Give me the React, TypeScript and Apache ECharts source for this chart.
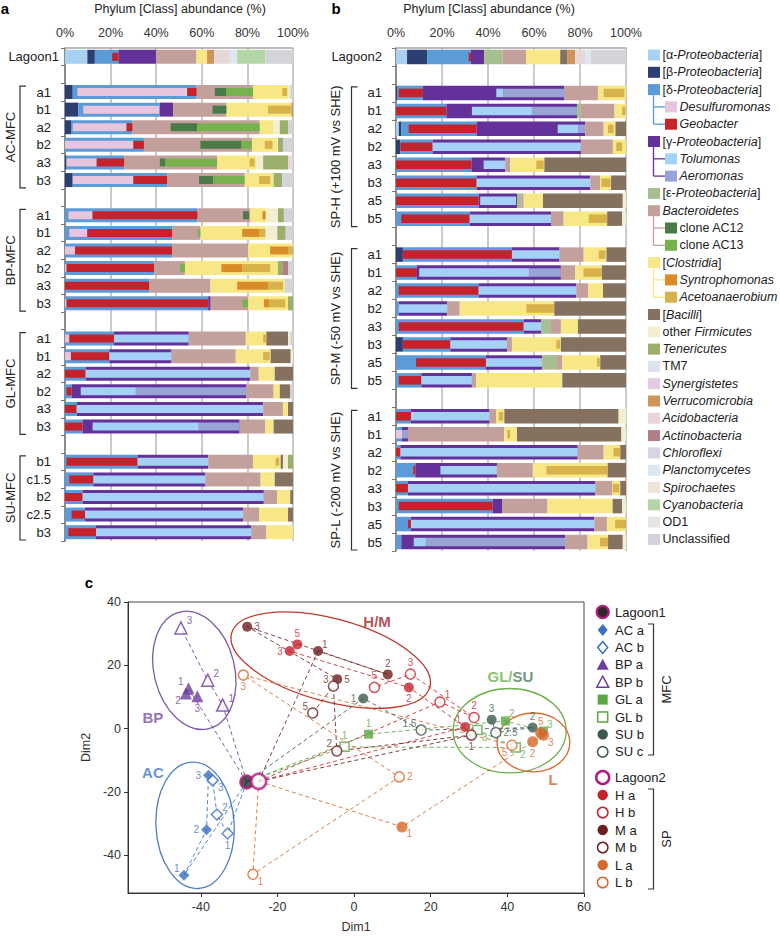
import React, { useEffect, useRef } from 'react';
import * as echarts from 'echarts';

const FONT = '"Liberation Sans", Arial, Helvetica, sans-serif';

/* ================= panel a : MFC anodes ================= */
const A_LABELS = ['Lagoon1', '', 'a1', 'b1', 'a2', 'b2', 'a3', 'b3', '', 'a1', 'b1', 'a2', 'b2', 'a3', 'b3', '', 'a1', 'b1', 'a2', 'b2', 'a3', 'b3', '', 'b1', 'c1.5', 'b2', 'c2.5', 'b3'];
// parent taxa (% of reads)
const A_ALPHA = [9.8, 0, 0, 0, 0, 0, 0, 0, 0, 0, 0, 0, 0, 0, 0, 0, 0, 0, 0, 0, 0, 0, 0, 0, 0, 0, 0, 0];
const A_BETA = [3.3, 0, 3.4, 5.8, 2.9, 0, 0.7, 3.4, 0, 0, 0, 0, 0, 0, 0, 0, 0, 0, 0, 0, 0, 0, 0, 0, 0, 0, 0, 0];
const A_DELTA = [10.3, 0, 54.3, 35.8, 26.7, 34.6, 25.3, 41.4, 0, 58.1, 47, 47, 39.1, 36.9, 62.8, 0, 21.5, 19.4, 9, 2.9, 5.1, 7.7, 0, 31.8, 12.4, 7.7, 8.8, 13.6];
const A_GAMMA = [16.5, 0, 0, 5.8, 0, 0, 0, 0, 0, 0, 0, 0, 0, 0, 1.1, 0, 32.8, 27.3, 72.3, 76.7, 81.8, 68.9, 0, 31, 49.2, 79.5, 69.3, 68.2];
const A_BACT = [17.8, 0, 24.8, 23.4, 55.8, 47.4, 40.7, 34, 0, 23.2, 12.4, 33.3, 13.5, 26.9, 16.4, 0, 25, 28.2, 3.7, 11.9, 8.7, 11.3, 0, 19.7, 24.2, 5.8, 7, 6.5];
const A_CLOST = [4.6, 0, 15.3, 28.5, 6.1, 11.1, 17.3, 12.7, 0, 7, 28.6, 19.7, 40.8, 32.6, 17.5, 0, 9, 15.3, 7, 2.7, 2.2, 3.6, 0, 12.1, 6.2, 5.8, 12.7, 11.7];
const A_BACILLI = [0, 0, 0, 0, 0, 0, 0, 0, 0, 0, 0, 0, 0, 0, 0, 0, 9.5, 8.8, 8, 4.6, 2.2, 8.5, 0, 1, 8, 1.2, 2.2, 0];
const A_OTHERF = [0, 0, 1, 0, 2.7, 0.3, 2.9, 0, 0, 5.1, 5.1, 0, 0, 0, 0, 0, 1, 1, 0, 0, 0, 0, 0, 2.2, 0, 0, 0, 0];
const A_TENERIC = [0, 0, 0, 0, 3.6, 2.2, 10.9, 3.8, 0, 2.6, 3.7, 0, 2.2, 0, 2.2, 0, 0, 0, 0, 0, 0, 0, 0, 2.2, 0, 0, 0, 0];
const A_VERRUCO = [3.1, 0, 0, 0.7, 0, 0, 0, 0, 0, 0, 0, 0, 0, 0, 0, 0, 0, 0, 0, 0, 0, 0, 0, 0, 0, 0, 0, 0];
const A_ACIDO = [6.9, 0, 0, 0, 0, 0, 2.2, 0, 0, 0, 0, 0, 0, 0, 0, 0, 0, 0, 0, 0, 0, 0, 0, 0, 0, 0, 0, 0];
const A_ACTINO = [0, 0, 0, 0, 0, 0, 0, 0, 0, 0, 0, 0, 2.2, 0, 0, 0, 0, 0, 0, 0, 0, 0, 0, 0, 0, 0, 0, 0];
const A_PLANCTO = [3.2, 0, 0, 0, 0, 0, 0, 0, 0, 0, 0, 0, 0, 0, 0, 0, 0, 0, 0, 0, 0, 0, 0, 0, 0, 0, 0, 0];
const A_CYANO = [12.4, 0, 0, 0, 0, 0, 0, 0, 0, 0, 0, 0, 0, 0, 0, 0, 0, 0, 0, 0, 0, 0, 0, 0, 0, 0, 0, 0];
const A_UNCLASS = [12.1, 0, 1.2, 0, 2.2, 4.4, 0, 4.7, 0, 4, 3.2, 0, 2.2, 3.6, 0, 0, 1.2, 0, 0, 1.2, 0, 0, 0, 0, 0, 0, 0, 0];
// nested genera / clones (offset inside parent, then sub-taxa)
const A_DPRE = [7.6, 0, 2.0, 2.2, 0.5, 0, 0, 0, 0, 1.5, 1.9, 0, 0, 0, 0, 0, 0, 0, 0, 0.7, 0, 0, 0, 0.7, 1.9, 0, 2.9, 1.5];
const A_DESULFO = [0, 0, 48.2, 33.3, 23.6, 30, 13.2, 26.6, 0, 10.6, 7.9, 4.4, 0.7, 0, 0.7, 0, 1.9, 2.6, 0, 0, 0, 0, 0, 0, 0, 0, 0, 0];
const A_GEO = [2.7, 0, 4.1, 0, 2.6, 4.6, 12.1, 14.8, 0, 46, 37.2, 42.6, 38.4, 36.9, 62.1, 0, 19.6, 16.8, 9, 2.2, 5.1, 7.7, 0, 31.1, 10.5, 7.7, 5.9, 12.1];
const A_GPRE = [0, 0, 0, 0, 0, 0, 0, 0, 0, 0, 0, 0, 0, 0, 0, 0, 0, 0, 0, 4.0, 0, 4.4, 0, 0, 0, 0, 0, 0];
const A_TOLU = [0, 0, 0, 0, 0, 0, 0, 0, 0, 0, 0, 0, 0, 0, 0, 0, 32.8, 27.3, 72.3, 24.2, 81.8, 46.6, 0, 31, 49.2, 79.5, 69.3, 68.2];
const A_AERO = [0, 0, 0, 0, 0, 0, 0, 0, 0, 0, 0, 0, 0, 0, 0, 0, 0, 0, 0, 48.5, 0, 17.9, 0, 0, 0, 0, 0, 0];
const A_BPRE = [0, 0, 8.0, 17.3, 16.7, 24.8, 15.6, 14, 0, 20, 11.4, 0, 11.3, 0, 13.9, 0, 0, 0, 0, 0, 0, 0, 0, 0, 0, 0, 0, 0];
const A_AC12 = [0, 0, 5.1, 6.1, 11.7, 18, 2.4, 6.2, 0, 2.6, 0, 0, 0, 0, 0, 0, 0, 0, 0, 0, 0, 0, 0, 0, 0, 0, 0, 0];
const A_AC13 = [0, 0, 11.7, 0, 27.4, 4.6, 22.7, 13.8, 0, 0, 1.0, 0, 2.2, 0, 2.5, 0, 0, 0, 0, 0, 0, 0, 0, 0, 0, 0, 0, 0];
const A_CPRE = [0, 0, 12.8, 18.2, 0, 5.6, 14.3, 6.3, 0, 5.3, 18.3, 9.7, 16, 11.7, 7, 0, 7.6, 12, 0, 0, 0, 0, 0, 9.9, 0, 0, 0, 0];
const A_SYN = [0, 0, 0, 0, 0, 0, 0, 0, 0, 1.4, 7.7, 7.8, 9.1, 13.8, 2.2, 0, 0, 0, 0, 0, 0, 0, 0, 0, 0, 0, 0, 0];
const A_ACETO = [0, 0, 2.1, 10.3, 0, 3.4, 2.2, 4.9, 0, 0, 2.5, 2.2, 12.3, 6.3, 7.1, 0, 1.4, 2.9, 0, 0, 0, 0, 0, 1.5, 0, 0, 0, 0];

/* ================= panel b : SP electrodes ================= */
const B_LABELS = ['Lagoon2', '', 'a1', 'b1', 'a2', 'b2', 'a3', 'b3', 'a5', 'b5', '', 'a1', 'b1', 'a2', 'b2', 'a3', 'b3', 'a5', 'b5', '', 'a1', 'b1', 'a2', 'b2', 'a3', 'b3', 'a5', 'b5'];
const B_ALPHA = [4.8, 0, 0, 0, 1.2, 0, 0, 0, 0, 0, 0, 0, 0, 0, 0, 0, 0, 0, 0, 0, 0, 0, 0, 0, 0, 0, 0, 0];
const B_BETA = [8.7, 0, 0.7, 0, 1.0, 1.9, 0, 0, 0, 0, 0, 3, 0, 0, 0, 0, 3, 0, 0, 0, 0, 0, 0, 0, 0, 0, 0, 0];
const B_DELTA = [19.1, 0, 11, 21.9, 32.8, 14, 32.8, 35, 35.9, 32, 0, 47.4, 9.1, 35.9, 1.2, 55.5, 20.6, 39.1, 11, 0, 6.5, 2.6, 1.9, 8.4, 5.2, 42, 6.5, 2.3];
const B_GAMMA = [5.8, 0, 61.5, 56.8, 47.3, 64.5, 14.7, 49.5, 16.7, 35.4, 0, 20.7, 62.6, 42.5, 21, 7.7, 24.7, 24.4, 22, 0, 34.2, 2.6, 77.1, 35.5, 81.5, 4.1, 79.7, 71.3];
const B_EPS = [8, 0, 0, 1.7, 0, 0, 0, 0, 1.9, 0, 0, 0, 0, 0, 0, 4.2, 0, 6.5, 0, 0, 0, 0, 0, 0, 0, 0, 0, 0];
const B_BACT = [10.1, 0, 14.6, 14.6, 8, 13.9, 2.2, 4.3, 1, 5.5, 0, 10.5, 6.2, 5.1, 5.5, 4.3, 2.1, 2.3, 1.9, 0, 2.8, 41.9, 11.3, 15.6, 7.2, 19.8, 5.5, 9.7];
const B_CLOST = [14.9, 0, 12.2, 5, 5.1, 5.7, 14.8, 4.7, 8.4, 18.9, 0, 9.9, 11.6, 6.5, 41.1, 7.4, 21.3, 16.5, 37.4, 0, 3.6, 5.5, 7.2, 32.5, 3.6, 28.3, 8.3, 8.9];
const B_BACILLI = [3.2, 0, 0, 0, 4.6, 0, 35.5, 6.5, 34.7, 6.5, 0, 8.5, 10.5, 10, 31.2, 20.9, 28.3, 11.2, 27.7, 0, 49.7, 45.4, 2.5, 8, 2.5, 4.1, 0, 6.4];
const B_OTHERF = [0, 0, 0, 0, 0, 0, 0, 0, 1.4, 1.7, 0, 0, 0, 0, 0, 0, 0, 0, 0, 0, 3.2, 2, 0, 0, 0, 1.7, 0, 1.4];
const B_VERRUCO = [3.3, 0, 0, 0, 0, 0, 0, 0, 0, 0, 0, 0, 0, 0, 0, 0, 0, 0, 0, 0, 0, 0, 0, 0, 0, 0, 0, 0];
const B_ACIDO = [4.3, 0, 0, 0, 0, 0, 0, 0, 0, 0, 0, 0, 0, 0, 0, 0, 0, 0, 0, 0, 0, 0, 0, 0, 0, 0, 0, 0];
const B_PLANCTO = [2.5, 0, 0, 0, 0, 0, 0, 0, 0, 0, 0, 0, 0, 0, 0, 0, 0, 0, 0, 0, 0, 0, 0, 0, 0, 0, 0, 0];
const B_UNCLASS = [15.3, 0, 0, 0, 0, 0, 0, 0, 0, 0, 0, 0, 0, 0, 0, 0, 0, 0, 0, 0, 0, 0, 0, 0, 0, 0, 0, 0];
const B_DPRE = [18.1, 0, 0.5, 0, 3.3, 0, 0, 0, 0, 2.3, 0, 0, 0, 1.2, 0, 1.2, 0, 8.7, 1.2, 0, 0, 0, 0, 7.5, 0, 1.2, 5.2, 0];
const B_DESULFO = [0, 0, 0, 0, 0, 0, 0, 0, 0, 0, 0, 0, 0, 0, 0, 0, 0, 0, 0, 0, 0, 2.6, 0, 0, 0, 0, 0, 0];
const B_GEO = [1.0, 0, 10.5, 21.9, 29.5, 14, 32.8, 35, 35.9, 29.7, 0, 47.4, 9.1, 34.7, 0, 54.3, 20.6, 30.4, 9.8, 0, 6.5, 0, 1.9, 0.9, 5.2, 40.8, 1.3, 0];
const B_GPRE = [0, 0, 31.9, 11.1, 35.3, 0, 5.3, 0, 0.7, 0, 0, 0, 1, 0, 0, 0, 0, 0, 0, 0, 0, 0, 0, 10.9, 0, 0, 0, 5.4];
const B_TOLU = [0, 0, 3.2, 26.1, 9.1, 64.5, 9.4, 49.5, 15.6, 35.4, 0, 20.7, 48, 42.5, 21, 7.7, 24.7, 24.4, 22, 0, 34.2, 0, 77.1, 24.6, 81.5, 0, 79.7, 5.3];
const B_AERO = [0, 0, 26.4, 19.6, 2.9, 0, 0, 0, 0, 0, 0, 0, 13.6, 0, 0, 0, 0, 0, 0, 0, 0, 2.6, 0, 0, 0, 0, 0, 60.6];
const B_CPRE = [0, 0, 2.5, 3.3, 1.8, 1.5, 11.3, 0.5, 0, 10.9, 0, 6.6, 3.6, 0, 29, 0, 19.3, 15.1, 0, 0, 1.2, 1.3, 4.3, 5.9, 0.3, 0, 3.6, 5.4];
const B_ACETO = [0, 0, 9, 1.5, 2.5, 2.5, 3.2, 4, 0, 8, 0, 2.8, 8, 0, 12, 0, 1.7, 1.2, 0, 0, 1.9, 1.2, 2.9, 26.6, 2.9, 0, 4.7, 3.5];

/* ================= panel c : ordination ================= */
const LAGOON1: [number, number][] = [[-28, -16.9]];
const LAGOON2: [number, number][] = [[-24.9, -16.7]];
const AC_A: [number, number, string][] = [[-44.4, -46.4, '1'], [-38.5, -32, '2'], [-38, -14.8, '3']];
const AC_B: [number, number, string][] = [[-33, -33.2, '1'], [-35.8, -27.2, '2'], [-36.9, -16.4, '3']];
const BP_A: [number, number, string][] = [[-43.2, 12.7, '1'], [-43.9, 11.1, '2'], [-40.9, 10.2, '3']];
const BP_B: [number, number, string][] = [[-34.3, 7.4, '1'], [-38.2, 15.3, '2'], [-45.2, 31.8, '3']];
const GL_A: [number, number, string][] = [[3.8, -1.8, '1'], [39.5, 2.4, '2'], [49.4, -0.8, '3']];
const GL_B: [number, number, string][] = [[-2.5, -5.8, '1'], [42.2, -6, '2'], [32.2, -0.5, '3']];
const SU_B: [number, number, string][] = [[2.4, 9.5, '1'], [46.6, 0.3, '2'], [35.9, 2.8, '3']];
const SU_C: [number, number, string][] = [[17.5, -0.5, '1.5'], [37, -1.3, '2.5']];
const H_A: [number, number, string][] = [[29, 0.5, '1'], [14.3, 13, '2'], [-16.8, 24.5, '3'], [-14.8, 26.6, '5']];
const H_B: [number, number, string][] = [[22.4, 8.4, '1'], [31.3, 3.5, '2'], [14.7, 17.2, '3'], [5.3, 13, '5']];
const M_A: [number, number, string][] = [[-9.4, 24.5, '1'], [8.8, 17.1, '2'], [-27.9, 32.2, '3'], [-4.4, 15.6, '5']];
const M_B: [number, number, string][] = [[30.6, -2.1, '1'], [-4.5, -7.1, '2'], [-5.4, 13.4, '3'], [-10.8, 4.9, '5']];
const L_A: [number, number, string][] = [[12.5, -31.1, '1'], [46.6, -4.2, '2'], [49.4, -2.1, '3'], [48.7, -1.4, '5']];
const L_B: [number, number, string][] = [[-26.4, -46.1, '1'], [11.8, -15.3, '2'], [-28.9, 16.9, '3'], [41.2, -5.3, '5']];
// cluster ellipses: centre x, centre y, semi-axis (x units), semi-axis (y units), rotation (deg)
const ELL_BP = [-41.7, 18.4, 10.5, 19, 14];
const ELL_AC = [-41.5, -30.6, 10.2, 20, 3];
const ELL_HM = [-6.1, 21.6, 26.8, 13.1, -15.2];
const ELL_GLSU = [40.6, -0.7, 14.75, 13.35, 0];
const ELL_L = [46.8, -4.4, 9.5, 9.3, 0];
const CLUSTER_TAGS: [number, number, string][] = [[-52.5, 3.6, 'BP'], [-52.5, -13.9, 'AC'], [6, 33.7, 'H/M'], [40.8, 16.3, 'GL/SU'], [51.9, -16, 'L']];

// label placement codes for point numbers (style only)
const LP: Record<string, string[]> = {
  'AC a': ['tl', 'l', 'l'], 'AC b': ['b', 'tr', 'br'],
  'BP a': ['tl', 'bl', 'b'], 'BP b': ['tr', 'tr', 'tr'],
  'GL a': ['t', 'tr', 'tr'], 'GL b': ['t', 'br', 'br'],
  'SU b': ['l', 't', 't'], 'SU c': ['tl', 'r'],
  'H a': ['tl', 'b', 'l', 't'], 'H b': ['tr', 't', 't', 't'],
  'M a': ['tr', 't', 'r', 'r'], 'M b': ['b', 'tl', 'tl', 'tl'],
  'L a': ['br', 'b', 'br', 't'], 'L b': ['br', 'r', 'b', 'bl'],
};

const C: Record<string, string> = {
  alpha: '#a9d2f2', beta: '#2c3e72', delta: '#5b9bd8', desulfo: '#e8c5df', geo: '#c6222b',
  gamma: '#64309a', tolu: '#a6d1f6', aero: '#98a3d6', eps: '#a7bf8e', bact: '#c4a09d',
  ac12: '#4a7a47', ac13: '#77b24f', clost: '#f7e786', syn: '#d98b27', aceto: '#d7b14a',
  bacilli: '#85715f', otherF: '#f1efcf', teneric: '#9bae6b', tm7: '#dce2ee', synerg: '#e3cbe3',
  verruco: '#cf9457', acido: '#e7d7d9', actino: '#ae7f87', chloro: '#d7d4e4', plancto: '#dce7f0',
  spiro: '#ece5da', cyano: '#b4d5a5', od1: '#e5e5e1', unclass: '#d3d3da',
};

const LEGEND_AB: { key: string; text: string; sub?: boolean }[] = [
  { key: 'alpha', text: '{n|[α-}{i|Proteobacteria}{n|]}' },
  { key: 'beta', text: '{n|[β-}{i|Proteobacteria}{n|]}' },
  { key: 'delta', text: '{n|[δ-}{i|Proteobacteria}{n|]}' },
  { key: 'desulfo', text: '{i|Desulfuromonas}', sub: true },
  { key: 'geo', text: '{i|Geobacter}', sub: true },
  { key: 'gamma', text: '{n|[γ-}{i|Proteobacteria}{n|]}' },
  { key: 'tolu', text: '{i|Tolumonas}', sub: true },
  { key: 'aero', text: '{i|Aeromonas}', sub: true },
  { key: 'eps', text: '{n|[ε-}{i|Proteobacteria}{n|]}' },
  { key: 'bact', text: '{i|Bacteroidetes}' },
  { key: 'ac12', text: '{n|clone AC12}', sub: true },
  { key: 'ac13', text: '{n|clone AC13}', sub: true },
  { key: 'clost', text: '{n|[}{i|Clostridia}{n|]}' },
  { key: 'syn', text: '{i|Syntrophomonas}', sub: true },
  { key: 'aceto', text: '{i|Acetoanaerobium}', sub: true },
  { key: 'bacilli', text: '{n|[}{i|Bacilli}{n|]}' },
  { key: 'otherF', text: '{n|other }{i|Firmicutes}' },
  { key: 'teneric', text: '{i|Tenericutes}' },
  { key: 'tm7', text: '{n|TM7}' },
  { key: 'synerg', text: '{i|Synergistetes}' },
  { key: 'verruco', text: '{i|Verrucomicrobia}' },
  { key: 'acido', text: '{i|Acidobacteria}' },
  { key: 'actino', text: '{i|Actinobacteria}' },
  { key: 'chloro', text: '{i|Chloroflexi}' },
  { key: 'plancto', text: '{i|Planctomycetes}' },
  { key: 'spiro', text: '{i|Spirochaetes}' },
  { key: 'cyano', text: '{i|Cyanobacteria}' },
  { key: 'od1', text: '{n|OD1}' },
  { key: 'unclass', text: '{n|Unclassified}' },
];

const N = 28;
const ZERO = new Array(N).fill(0);

type Inner = Record<string, number[]>;

function barPanelSeries(outer: [string, number[]][], inner: Inner, xi: number, yo: number, yi: number, wo: number, wi: number) {
  const get = (k: string) => {
    const f = outer.find((o) => o[0] === k);
    return f ? f[1] : ZERO;
  };
  const iv = (k: string) => inner[k] || ZERO;
  const r = (v: number) => Math.max(0, Math.round(v * 1000) / 1000);
  const sp1: number[] = [], sp2: number[] = [], sp3: number[] = [], sp4: number[] = [];
  for (let i = 0; i < N; i++) {
    sp1.push(r(get('alpha')[i] + get('beta')[i] + iv('dPre')[i]));
    sp2.push(r(get('delta')[i] - iv('dPre')[i] - iv('desulfo')[i] - iv('geo')[i] + iv('gPre')[i]));
    sp3.push(r(get('gamma')[i] - iv('gPre')[i] - iv('tolu')[i] - iv('aero')[i] + get('eps')[i] + iv('bPre')[i]));
    sp4.push(r(get('bact')[i] - iv('bPre')[i] - iv('ac12')[i] - iv('ac13')[i] + iv('cPre')[i]));
  }
  const series: any[] = [];
  outer.forEach(([k, arr]) => {
    series.push({
      type: 'bar', name: k, stack: 'outer' + xi, xAxisIndex: xi, yAxisIndex: yo,
      barWidth: wo, data: arr, itemStyle: { color: C[k] }, silent: true,
    });
  });
  const seq: [string, number[]][] = [
    ['sp', sp1], ['desulfo', iv('desulfo')], ['geo', iv('geo')], ['sp', sp2],
    ['tolu', iv('tolu')], ['aero', iv('aero')], ['sp', sp3],
    ['ac12', iv('ac12')], ['ac13', iv('ac13')], ['sp', sp4],
    ['syn', iv('syn')], ['aceto', iv('aceto')],
  ];
  seq.forEach(([k, arr], j) => {
    series.push({
      type: 'bar', name: k + '_' + j, stack: 'inner' + xi, xAxisIndex: xi, yAxisIndex: yi,
      barWidth: wi, data: arr, silent: true,
      itemStyle: { color: k === 'sp' ? 'rgba(0,0,0,0)' : C[k] },
    });
  });
  return series;
}

function pctAxis(g: number) {
  return {
    gridIndex: g, type: 'value', min: 0, max: 100, interval: 20, position: 'top',
    axisLine: { show: true, lineStyle: { color: '#a8a8a8', width: 1.5 } },
    axisTick: { show: false },
    splitLine: { show: true, lineStyle: { color: '#b9b9b9', width: 1.5 } },
    axisLabel: { formatter: '{value}%', fontSize: 12.5, color: '#333', margin: 9, fontFamily: FONT },
  };
}

function catAxis(g: number, labels: string[], visible: boolean, padSamples: boolean, margin: number) {
  return {
    gridIndex: g, type: 'category', inverse: true, show: visible,
    data: labels.map((t, i) => i + '|' + t),
    axisLine: { show: true, lineStyle: { color: '#777', width: 1.5 } },
    axisTick: { show: true, length: 4, lineStyle: { color: '#777' } },
    axisLabel: {
      margin, color: '#222', fontSize: 13, fontFamily: FONT,
      formatter: (v: string) => {
        const t = v.split('|')[1];
        if (!t) return '';
        return padSamples && !t.startsWith('Lagoon') ? '{s|' + t + '}' : t;
      },
      rich: { s: { padding: [0, 8, 0, 0], fontSize: 13, fontFamily: FONT, color: '#222' } },
    },
  };
}

const GROUPS = [
  { name: 'AC a', pts: AC_A, symbol: 'diamond', size: 11, color: '#3a6fbf', filled: true, lag: LAGOON1 },
  { name: 'AC b', pts: AC_B, symbol: 'diamond', size: 11, color: '#3a6fbf', filled: false, lag: LAGOON1 },
  { name: 'BP a', pts: BP_A, symbol: 'triangle', size: 12, color: '#6c3d9c', filled: true, lag: LAGOON1 },
  { name: 'BP b', pts: BP_B, symbol: 'triangle', size: 12, color: '#6c3d9c', filled: false, lag: LAGOON1 },
  { name: 'GL a', pts: GL_A, symbol: 'rect', size: 9, color: '#5aa845', filled: true, lag: LAGOON1 },
  { name: 'GL b', pts: GL_B, symbol: 'rect', size: 9, color: '#5aa845', filled: false, lag: LAGOON1 },
  { name: 'SU b', pts: SU_B, symbol: 'circle', size: 10, color: '#3e5a4d', filled: true, lag: LAGOON1 },
  { name: 'SU c', pts: SU_C, symbol: 'circle', size: 10, color: '#3e5a4d', filled: false, lag: LAGOON1 },
  { name: 'H a', pts: H_A, symbol: 'circle', size: 10, color: '#c5232c', filled: true, lag: LAGOON2 },
  { name: 'H b', pts: H_B, symbol: 'circle', size: 10, color: '#c5232c', filled: false, lag: LAGOON2 },
  { name: 'M a', pts: M_A, symbol: 'circle', size: 10, color: '#6d1e1e', filled: true, lag: LAGOON2 },
  { name: 'M b', pts: M_B, symbol: 'circle', size: 10, color: '#6d1e1e', filled: false, lag: LAGOON2 },
  { name: 'L a', pts: L_A, symbol: 'circle', size: 11, color: '#d7682b', filled: true, lag: LAGOON2 },
  { name: 'L b', pts: L_B, symbol: 'circle', size: 10, color: '#d7682b', filled: false, lag: LAGOON2 },
];

function labelPlace(code: string) {
  switch (code) {
    case 't': return { position: 'top', distance: 1 };
    case 'b': return { position: 'bottom', distance: 1 };
    case 'l': return { position: 'left', distance: 2 };
    case 'r': return { position: 'right', distance: 2 };
    case 'tr': return { position: 'right', distance: 0, offset: [-1, -7] };
    case 'tl': return { position: 'left', distance: 0, offset: [1, -7] };
    case 'br': return { position: 'right', distance: 0, offset: [-1, 7] };
    default: return { position: 'left', distance: 0, offset: [1, 7] };
  }
}

function buildOption() {
  const A_OUTER: [string, number[]][] = [
    ['alpha', A_ALPHA], ['beta', A_BETA], ['delta', A_DELTA], ['gamma', A_GAMMA], ['bact', A_BACT],
    ['clost', A_CLOST], ['bacilli', A_BACILLI], ['otherF', A_OTHERF], ['teneric', A_TENERIC],
    ['verruco', A_VERRUCO], ['acido', A_ACIDO], ['actino', A_ACTINO], ['plancto', A_PLANCTO],
    ['cyano', A_CYANO], ['unclass', A_UNCLASS],
  ];
  const A_INNER: Inner = {
    dPre: A_DPRE, desulfo: A_DESULFO, geo: A_GEO, gPre: A_GPRE, tolu: A_TOLU, aero: A_AERO,
    bPre: A_BPRE, ac12: A_AC12, ac13: A_AC13, cPre: A_CPRE, syn: A_SYN, aceto: A_ACETO,
  };
  const B_OUTER: [string, number[]][] = [
    ['alpha', B_ALPHA], ['beta', B_BETA], ['delta', B_DELTA], ['gamma', B_GAMMA], ['eps', B_EPS],
    ['bact', B_BACT], ['clost', B_CLOST], ['bacilli', B_BACILLI], ['otherF', B_OTHERF],
    ['verruco', B_VERRUCO], ['acido', B_ACIDO], ['plancto', B_PLANCTO], ['unclass', B_UNCLASS],
  ];
  const B_INNER: Inner = {
    dPre: B_DPRE, desulfo: B_DESULFO, geo: B_GEO, gPre: B_GPRE, tolu: B_TOLU, aero: B_AERO,
    cPre: B_CPRE, aceto: B_ACETO,
  };

  const series: any[] = [
    ...barPanelSeries(A_OUTER, A_INNER, 0, 0, 1, 14, 8),
    ...barPanelSeries(B_OUTER, B_INNER, 1, 2, 3, 14.5, 8.5),
  ];

  // panel c: dashed trajectories from lagoon inoculum
  GROUPS.forEach((g) => {
    let chainPts = g.pts;
    if (g.name === 'SU c') return;
    if (g.name === 'SU b') chainPts = [...SU_B, ...SU_C].sort((p, q) => parseFloat(p[2]) - parseFloat(q[2]));
    series.push({
      type: 'line', name: g.name + ' path', xAxisIndex: 2, yAxisIndex: 4, silent: true, z: 2,
      symbol: 'none', animation: false,
      data: [g.lag[0], ...chainPts.map((p) => [p[0], p[1]])],
      lineStyle: { color: g.color, width: 1, type: [4, 3], opacity: 0.85 },
    });
  });

  // cluster ellipses
  const ells: [number[], string][] = [
    [ELL_BP, '#7d5aa9'], [ELL_AC, '#4b7fc3'], [ELL_HM, '#c0392b'], [ELL_GLSU, '#6db04b'], [ELL_L, '#d9692c'],
  ];
  series.push({
    type: 'custom', name: 'clusters', xAxisIndex: 2, yAxisIndex: 4, silent: true, z: 1,
    encode: { x: 0, y: 1 },
    data: ells.map(([e, col]) => ({ value: e, itemStyle: { color: col } })),
    renderItem: (params: any, api: any) => {
      const c = api.coord([api.value(0), api.value(1)]);
      const s = api.size([api.value(2), api.value(3)]);
      return {
        type: 'ellipse', x: c[0], y: c[1], rotation: (api.value(4) * Math.PI) / 180,
        shape: { cx: 0, cy: 0, rx: s[0], ry: s[1] },
        style: { fill: 'none', stroke: api.visual('color'), lineWidth: 1.3 },
      };
    },
  });

  // sample points
  GROUPS.forEach((g) => {
    series.push({
      type: 'scatter', name: g.name, xAxisIndex: 2, yAxisIndex: 4, z: 5,
      symbol: g.symbol, symbolSize: g.size,
      itemStyle: g.filled ? { color: g.color } : { color: '#fff', borderColor: g.color, borderWidth: 1.5 },
      label: { show: true, formatter: '{b}', fontSize: 10, color: g.color, fontFamily: FONT },
      data: g.pts.map((p, i) => ({ name: p[2], value: [p[0], p[1]], label: labelPlace(LP[g.name][i]) })),
    });
  });
  series.push({
    type: 'scatter', name: 'Lagoon1', xAxisIndex: 2, yAxisIndex: 4, z: 7, symbolSize: 13,
    itemStyle: { color: '#2b2b2b', borderColor: '#b5177f', borderWidth: 2.2 }, data: LAGOON1,
  });
  series.push({
    type: 'scatter', name: 'Lagoon2', xAxisIndex: 2, yAxisIndex: 4, z: 7, symbolSize: 15,
    itemStyle: { color: '#fff', borderColor: '#b5177f', borderWidth: 2.6 }, data: LAGOON2,
  });
  const tagColor: Record<string, string> = { BP: '#7a4aa6', AC: '#3f78c4', 'H/M': '#a4222a', L: '#d6672b' };
  series.push({
    type: 'scatter', name: 'cluster tags', xAxisIndex: 2, yAxisIndex: 4, z: 8, symbolSize: 1, silent: true,
    itemStyle: { color: 'rgba(0,0,0,0)' },
    data: CLUSTER_TAGS.map((t) => ({
      name: t[2], value: [t[0], t[1]],
      label: {
        show: true, position: 'inside', fontSize: 15, fontWeight: 'bold', fontFamily: FONT,
        color: tagColor[t[2]] || '#5aa845',
        formatter: t[2] === 'GL/SU' ? '{g|GL/}{s|SU}' : '{b}',
        rich: {
          g: { color: '#6db04b', fontSize: 15, fontWeight: 'bold', fontFamily: FONT },
          s: { color: '#4e7a5a', fontSize: 15, fontWeight: 'bold', fontFamily: FONT },
        },
      },
    })),
  });

  /* ---------- graphic: panel letters, titles, group brackets, legends ---------- */
  const g: any[] = [];
  const txt = (x: number, y: number, text: string, extra: any = {}, rot = 0) => ({
    type: 'text', x, y, rotation: rot, silent: true,
    style: {
      text, fill: '#222', fontSize: 12.5, fontFamily: FONT,
      align: 'center', verticalAlign: 'middle', textAlign: 'center', textVerticalAlign: 'middle', ...extra,
    },
  });
  g.push(txt(5, 8, 'a', { fontSize: 15, fontWeight: 'bold', fill: '#000' }));
  g.push(txt(336, 8, 'b', { fontSize: 15, fontWeight: 'bold', fill: '#000' }));
  g.push(txt(89, 582, 'c', { fontSize: 15, fontWeight: 'bold', fill: '#000' }));
  g.push(txt(180, 9, 'Phylum [Class] abundance (%)'));
  g.push(txt(489, 9, 'Phylum [Class] abundance (%)'));

  const A_TOP = 48, A_ROW = 493 / N, B_TOP = 48, B_ROW = 503 / N;
  const brackets = (top: number, row: number, bx: number, tx: number, groups: [string, number, number][]) => {
    groups.forEach(([name, r0, r1]) => {
      const y0 = top + row * r0 + 3, y1 = top + row * (r1 + 1) - 1;
      g.push({
        type: 'polyline', silent: true,
        shape: { points: [[bx + 6, y0], [bx, y0], [bx, y1], [bx + 6, y1]] },
        style: { stroke: '#333', lineWidth: 1.2, fill: 'none' },
      });
      g.push(txt(tx, (y0 + y1) / 2, name, { fontSize: 13 }, Math.PI / 2));
    });
  };
  brackets(A_TOP, A_ROW, 20, 10, [['AC-MFC', 2, 7], ['BP-MFC', 9, 14], ['GL-MFC', 16, 21], ['SU-MFC', 23, 27]]);
  brackets(B_TOP, B_ROW, 351.5, 335, [['SP-H (+100 mV vs SHE)', 2, 9], ['SP-M (-50 mV vs SHE)', 11, 18], ['SP-L (-200 mV vs SHE)', 20, 27]]);

  // legend for a/b
  const rowY = (i: number) => 55 + i * 17.3;
  const rich = {
    n: { fontSize: 12.5, fontFamily: FONT, fill: '#222', color: '#222' },
    i: { fontSize: 12.5, fontFamily: FONT, fontStyle: 'italic', fill: '#222', color: '#222' },
  };
  [[2, [3, 4], 'delta'], [5, [6, 7], 'gamma'], [9, [10, 11], 'bact'], [12, [13, 14], 'clost']].forEach((t: any) => {
    const [p, kids, key] = t;
    const x = 653.5;
    g.push({ type: 'line', silent: true, shape: { x1: x, y1: rowY(p) + 5.5, x2: x, y2: rowY(kids[kids.length - 1]) }, style: { stroke: C[key], lineWidth: 1.3 } });
    kids.forEach((k: number) => g.push({ type: 'line', silent: true, shape: { x1: x, y1: rowY(k), x2: 665, y2: rowY(k) }, style: { stroke: C[key], lineWidth: 1.3 } }));
  });
  LEGEND_AB.forEach((it, i) => {
    const y = rowY(i);
    const bx = it.sub ? 665 : 648;
    g.push({ type: 'rect', silent: true, shape: { x: bx, y: y - 5.5, width: 12, height: 11 }, style: { fill: C[it.key] } });
    g.push({
      type: 'text', x: bx + 14.5, y, silent: true,
      style: { text: it.text, rich, fontSize: 12.5, fontFamily: FONT, fill: '#222', align: 'left', verticalAlign: 'middle', textAlign: 'left', textVerticalAlign: 'middle' },
    });
  });

  // legend for c
  const sym = (kind: string, x: number, y: number, fill: string, stroke: string, lw: number) => {
    if (kind === 'diamond') return { type: 'polygon', silent: true, shape: { points: [[x, y - 6], [x + 5, y], [x, y + 6], [x - 5, y]] }, style: { fill, stroke, lineWidth: lw } };
    if (kind === 'triangle') return { type: 'polygon', silent: true, shape: { points: [[x, y - 6], [x + 6, y + 5], [x - 6, y + 5]] }, style: { fill, stroke, lineWidth: lw } };
    if (kind === 'rect') return { type: 'rect', silent: true, shape: { x: x - 5, y: y - 5, width: 10, height: 10 }, style: { fill, stroke, lineWidth: lw } };
    return { type: 'circle', silent: true, shape: { cx: x, cy: y, r: 5.2 }, style: { fill, stroke, lineWidth: lw } };
  };
  const LX = 602.7, TX = 615;
  g.push({ type: 'circle', silent: true, shape: { cx: LX, cy: 612, r: 6 }, style: { fill: '#2b2b2b', stroke: '#b5177f', lineWidth: 2.2 } });
  g.push(txt(TX, 612, 'Lagoon1', { align: 'left', textAlign: 'left', fontSize: 13 }));
  g.push({ type: 'circle', silent: true, shape: { cx: LX, cy: 777.5, r: 6.5 }, style: { fill: '#fff', stroke: '#b5177f', lineWidth: 2.4 } });
  g.push(txt(TX, 777.5, 'Lagoon2', { align: 'left', textAlign: 'left', fontSize: 13 }));
  GROUPS.forEach((gr, i) => {
    const y = i < 8 ? 630 + i * 17.4 : 795 + (i - 8) * 17.5;
    g.push(sym(gr.symbol, LX, y, gr.filled ? gr.color : '#fff', gr.color, gr.filled ? 0 : 1.5));
    g.push(txt(TX, y, gr.name, { align: 'left', textAlign: 'left', fontSize: 13 }));
  });
  const cBracket = (y0: number, y1: number, label: string) => {
    g.push({ type: 'polyline', silent: true, shape: { points: [[648, y0], [653.5, y0], [653.5, y1], [648, y1]] }, style: { stroke: '#333', lineWidth: 1.2, fill: 'none' } });
    g.push(txt(666, (y0 + y1) / 2, label, { fontSize: 13 }, Math.PI / 2));
  };
  cBracket(624, 755, 'MFC');
  cBracket(789, 889, 'SP');

  const ticksC = [-40, -20, 0, 20, 40, 60];
  const ticksCy = [-40, -20, 0, 20, 40];
  return {
    animation: false,
    textStyle: { fontFamily: FONT },
    grid: [
      { left: 65, top: 48, width: 228, height: 493 },
      { left: 396, top: 48, width: 230, height: 503 },
      { left: 128, top: 602, width: 456, height: 291, show: true, borderColor: '#444', borderWidth: 1 },
    ],
    xAxis: [
      pctAxis(0),
      pctAxis(1),
      {
        gridIndex: 2, type: 'value', min: -59, max: 60,
        axisLine: { show: true, onZero: false, lineStyle: { color: '#333' } },
        axisTick: { show: true, length: 4, customValues: ticksC, lineStyle: { color: '#333' } },
        axisLabel: { customValues: ticksC, fontSize: 12.5, color: '#333', margin: 7, fontFamily: FONT },
        splitLine: { show: false },
        name: 'Dim1', nameLocation: 'middle', nameGap: 27,
        nameTextStyle: { fontSize: 12.5, color: '#333', fontFamily: FONT },
      },
    ],
    yAxis: [
      catAxis(0, A_LABELS, true, true, 6),
      catAxis(0, A_LABELS, false, false, 6),
      catAxis(1, B_LABELS, true, false, 14),
      catAxis(1, B_LABELS, false, false, 14),
      {
        gridIndex: 2, type: 'value', min: -52, max: 40,
        axisLine: { show: true, onZero: false, lineStyle: { color: '#333' } },
        axisTick: { show: true, length: 4, customValues: ticksCy, lineStyle: { color: '#333' } },
        axisLabel: { customValues: ticksCy, fontSize: 12.5, color: '#333', margin: 7, fontFamily: FONT },
        splitLine: { show: false },
        name: 'Dim2', nameLocation: 'middle', nameGap: 30,
        nameTextStyle: { fontSize: 12.5, color: '#333', fontFamily: FONT },
      },
    ],
    series,
    graphic: { elements: g },
  };
}

export default function App() {
  const ref = useRef<HTMLDivElement>(null);
  useEffect(() => {
    if (!ref.current) return;
    const chart = echarts.init(ref.current, null, { renderer: 'svg' });
    chart.setOption(buildOption() as any);
    return () => chart.dispose();
  }, []);
  return <div ref={ref} style={{ position: 'absolute', left: 0, top: 0, width: 780, height: 936, background: '#fff' }} />;
}
